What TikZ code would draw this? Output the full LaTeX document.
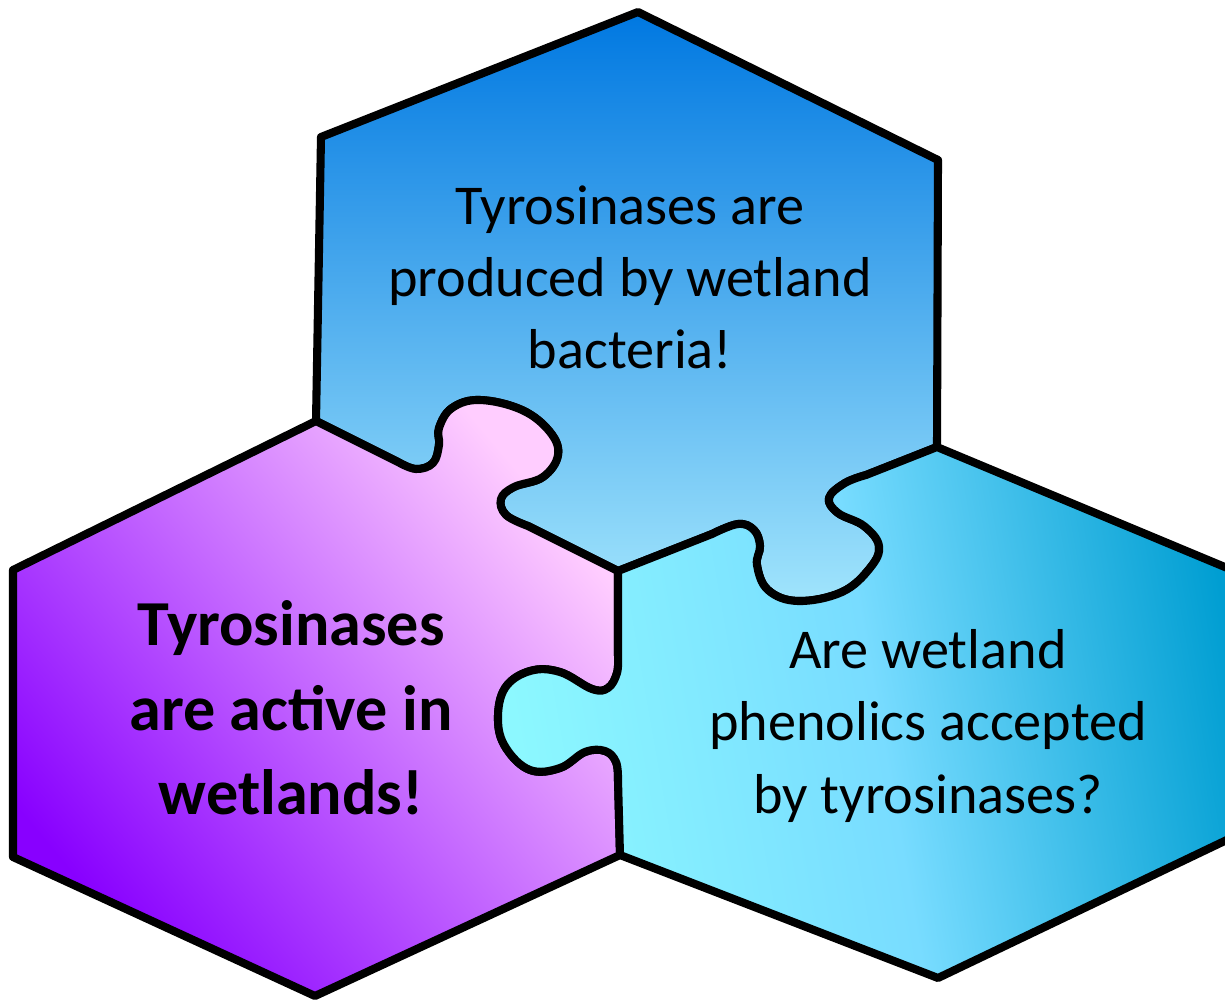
\documentclass[tikz,border=0pt]{standalone}
\usepackage{fontspec}
\setmainfont{Carlito}
\usepackage{tikz}
\usepackage{xcolor}

\definecolor{topdark}{RGB}{0,120,225}
\definecolor{topmid}{RGB}{95,150,255}
\definecolor{toplight}{RGB}{160,228,252}
\definecolor{leftpurple}{RGB}{136,0,255}
\definecolor{leftmid}{RGB}{215,155,255}
\definecolor{leftpink}{RGB}{255,205,255}
\definecolor{rightcyan}{RGB}{140,248,255}
\definecolor{rightmid}{RGB}{120,220,255}
\definecolor{rightdeep}{RGB}{0,158,210}

% puzzle tabs (pixel coordinates, y down)
\tikzset{
    tabtopleft/.style={insert path={-- plot[smooth, tension=0.65] coordinates {(398,462) (416,469) (433,463) (439,445) (439,428) (452,408) (480,400) (522,410) (550,432) (558,455) (543,477) (514,487) (501,499) (506,515) (528,526)}}},
    tabtopright/.style={insert path={-- plot[smooth, tension=0.65] coordinates {(712,534) (738,524) (754,530) (760,546) (757,565) (768,590) (798,601) (842,592) (870,568) (879,546) (864,526) (838,513) (829,498) (845,483) (866,475)}}},
    tabmid/.style={insert path={-- plot[smooth, tension=0.65] coordinates {(618,655) (617,673) (608,688) (592,689) (560,672) (530,671) (505,688) (498,720) (506,748) (530,770) (560,768) (585,752) (605,751) (616,762) (618,780)}}},
    tabmidrev/.style={insert path={-- plot[smooth, tension=0.65] coordinates {(618,780) (616,762) (605,751) (585,752) (560,768) (530,770) (506,748) (498,720) (505,688) (530,671) (560,672) (592,689) (608,688) (617,673) (618,655)}}},
}

\begin{document}
\begin{tikzpicture}[
    x=0.02cm, y=-0.02cm,        % one unit = one pixel of the reference
    hexline/.style={draw=black, line width=4.6pt, line join=round},
    tophex/.style={hexline, top color=topdark, middle color=topmid, bottom color=toplight},
    lefthex/.style={hexline, top color=leftpink, middle color=leftmid, bottom color=leftpurple, shading angle=-50},
    righthex/.style={hexline, left color=rightcyan, right color=rightdeep, middle color=rightmid, shading angle=100},
    puzzletext/.style={align=center, text=black, font=\fontsize{32pt}{41pt}\selectfont},
    boldtext/.style={align=center, text=black, font=\fontsize{36.5pt}{48pt}\selectfont\bfseries},
]
\useasboundingbox (0,0) rectangle (1225,1001);
\clip (0,0) rectangle (1225,1001);

% -------------------------------------------------
% Corners of the three hexagons
% -------------------------------------------------
\coordinate (jC)  at (618,571);   % meeting point
\coordinate (jL)  at (316,421);
\coordinate (jR)  at (937,447);
\coordinate (jD)  at (620,855);

\coordinate (tT)  at (638,12);
\coordinate (tUR) at (938,160);
\coordinate (tUL) at (321,137);

\coordinate (lB)  at (315,996);
\coordinate (lBL) at (13,857);
\coordinate (lTL) at (13,570);

\coordinate (rU)  at (1256,580);
\coordinate (rD)  at (1256,826);
\coordinate (rB)  at (938,978);

% -------------------------------------------------
% Pieces
% -------------------------------------------------
\shadedraw[tophex]   (jL) [tabtopleft] -- (jC) [tabtopright] -- (jR) -- (tUR) -- (tT) -- (tUL) -- cycle;
\shadedraw[lefthex]  (jL) [tabtopleft] -- (jC) [tabmid] -- (jD) -- (lB) -- (lBL) -- (lTL) -- cycle;
\shadedraw[righthex] (jC) [tabtopright] -- (jR) -- (rU) -- (rD) -- (rB) -- (jD) [tabmidrev] -- cycle;

% -------------------------------------------------
% Texts
% -------------------------------------------------
\node[puzzletext] (produced) at (630,277) {Tyrosinases are\\produced by wetland\\bacteria!};
\node[boldtext]   (active)   at (291,708) {Tyrosinases\\are active in\\wetlands!};
\node[puzzletext] (accepted) at (928,726) {Are wetland\\phenolics accepted\\by tyrosinases?};

\end{tikzpicture}
\end{document}
